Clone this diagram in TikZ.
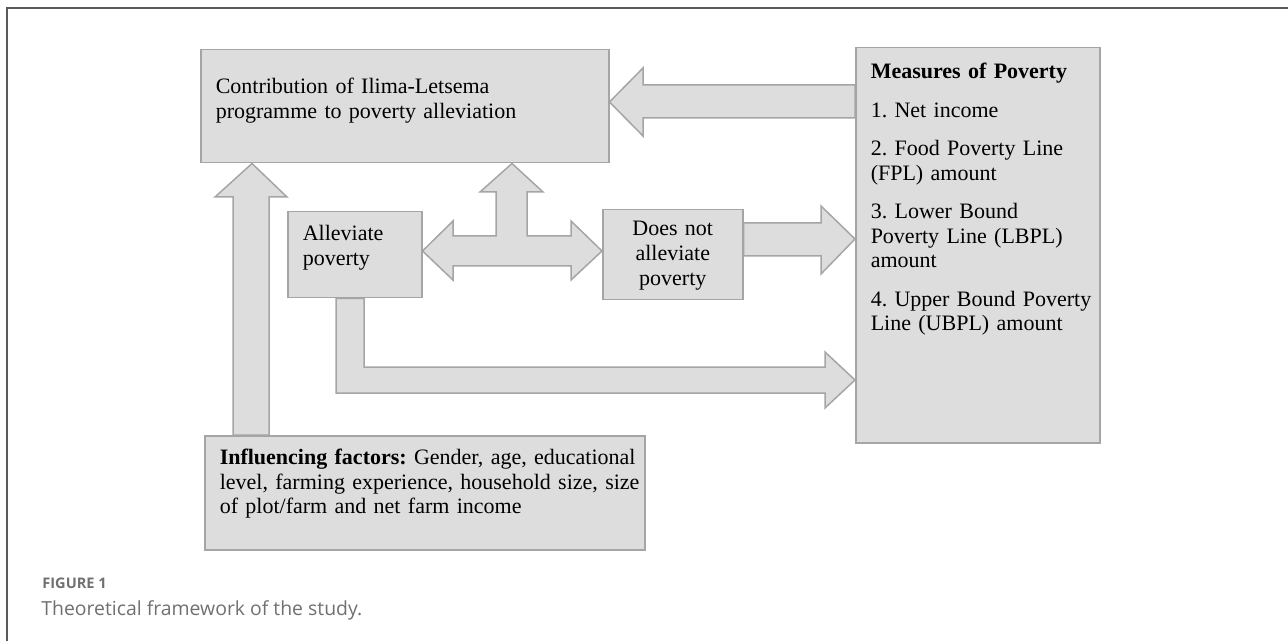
\documentclass[tikz,border=0pt]{standalone}
\usepackage{fontspec}
\setmainfont{Liberation Serif}
\newfontfamily\capfont{Open Sans}
\usepackage{tikz}
\frenchspacing

\definecolor{boxfill}{RGB}{221,221,221}
\definecolor{boxline}{RGB}{165,165,165}
\definecolor{framegray}{RGB}{90,90,90}
\definecolor{capgray}{RGB}{112,112,112}

\begin{document}
\begin{tikzpicture}[x=0.5pt, y=-0.5pt,
    box/.style={rectangle, draw=boxline, fill=boxfill, line width=0.75pt, inner xsep=7.5pt, inner ysep=0pt, anchor=north west, align=left, font=\fontsize{11}{12.5}\selectfont},
    fatarrow/.style={draw=boxline, fill=boxfill, line width=0.75pt, line join=miter},
    frame/.style={draw=framegray, line width=0.9pt},
    caption/.style={anchor=base west, inner sep=0pt, text=capgray}
]
\useasboundingbox (0,0) rectangle (1288,641);

% figure frame (left and top only)
\draw[frame] (7,641) -- (7,8) -- (1288,8);

% boxes
\node[box, text width=189pt, text height=22pt, text depth=34.5pt] (contrib) at (200,49)
    {Contribution of Ilima-Letsema\\programme to poverty alleviation};
\node[box, text width=107pt, text height=15.5pt, text depth=182pt, font=\fontsize{11}{12.25}\selectfont] (measures) at (855,47)
    {\textbf{Measures of Poverty}\\[7pt]
    1. Net income\\[7pt]
    \makebox[\linewidth][s]{2. Food Poverty Line}\\
    (FPL) amount\\[7pt]
    3. Lower Bound\\
    Poverty Line (LBPL)\\
    amount\\[7pt]
    \makebox[\linewidth][s]{4. Upper Bound Poverty}\\
    Line (UBPL) amount};
\node[box, text width=52pt, text height=14.5pt, text depth=28.5pt] (alleviate) at (287,211)
    {Alleviate\\poverty};
\node[box, text width=55pt, text height=13pt, text depth=32pt, align=center] (notalleviate) at (602,209)
    {Does not\\alleviate\\poverty};
\node[box, text width=205pt, text height=14.5pt, text depth=42.5pt, font=\fontsize{11}{12.25}\selectfont] (factors) at (204,435)
    {\makebox[\linewidth][s]{\textbf{Influencing factors:} Gender, age, educational}\\
    \makebox[\linewidth][s]{level, farming experience, household size, size}\\
    of plot/farm and net farm income};

% measures -> contribution
\draw[fatarrow] (measures.west |- 0,85) -- (643,85) -- (643,68) -- (contrib.east |- 0,102)
    -- (643,136) -- (643,118) -- (measures.west |- 0,118) -- cycle;

% alleviate <-> does not alleviate, and up to contribution
\draw[fatarrow] (alleviate.east |- 0,251) -- (453,221) -- (453,236) -- (496,236) -- (496,192) -- (480,192)
    -- (contrib.south -| 512,0) -- (543,192) -- (527,192) -- (527,236) -- (571,236) -- (571,221)
    -- (notalleviate.west |- 0,251) -- (571,280) -- (571,266) -- (453,266) -- (453,280) -- cycle;

% does not alleviate -> measures
\draw[fatarrow] (notalleviate.east |- 0,223) -- (821,223) -- (821,206) -- (measures.west |- 0,239)
    -- (821,274) -- (821,256) -- (notalleviate.east |- 0,256) -- cycle;

% influencing factors -> contribution
\draw[fatarrow] (factors.north -| 233,0) -- (233,197) -- (215,197) -- (contrib.south -| 252,0)
    -- (287,197) -- (269,197) -- (factors.north -| 269,0) -- cycle;

% alleviate -> measures (bent)
\draw[fatarrow] (alleviate.south -| 336,0) -- (336,393) -- (825,393) -- (825,408) -- (measures.west |- 0,380)
    -- (825,352) -- (825,367) -- (364,367) -- (alleviate.south -| 364,0) -- cycle;

% caption
\node[caption, font=\capfont\bfseries\fontsize{7.3}{8}\selectfont] (figlabel) at (42,588) {FIGURE 1};
\node[caption, font=\capfont\fontsize{9.7}{10}\selectfont] (figtitle) at (41,615) {Theoretical framework of the study.};

\end{tikzpicture}
\end{document}
